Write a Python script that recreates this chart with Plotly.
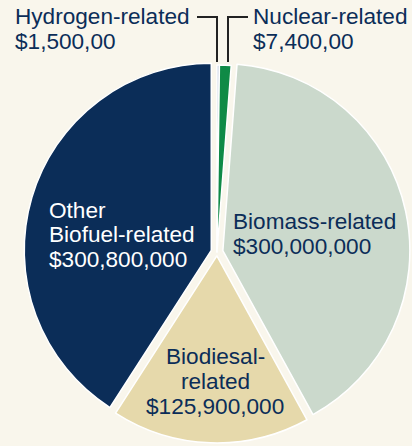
import plotly.graph_objects as go

# datos del grafico
labels = ['Hydrogen-related', 'Nuclear-related', 'Biomass-related', 'Biodiesal-related', 'Other Biofuel-related']
values = [1500000, 7400000, 300000000, 125900000, 300800000]
value_text = ['$1,500,00', '$7,400,00', '$300,000,000', '$125,900,000', '$300,800,000']
colors = ['#a9b9d3', '#0f8a46', '#cbd9cc', '#e6d9ab', '#0b2d58']
label_lines = [
    ['Hydrogen-related'],
    ['Nuclear-related'],
    ['Biomass-related'],
    ['Biodiesal-', 'related'],
    ['Other', 'Biofuel-related'],
]

W, H = 412, 446
BG = '#f9f6ec'


def px_x(x):
    return x / W


def px_y(y):
    return 1 - y / H


fig = go.Figure(go.Pie(
    labels=labels, values=values, sort=False, direction='clockwise', rotation=0,
    marker=dict(colors=colors, line=dict(color='white', width=1.5)),
    pull=[0, 0, 0.032, 0.021, 0.032],
    textinfo='none', hoverinfo='label+value', showlegend=False,
    domain=dict(x=[px_x(24), px_x(410)], y=[px_y(445), px_y(59)]),
))

# posicion de cada etiqueta (x, y de la primera linea, alineacion, color, interlineado)
label_pos = [
    (13, 16.5, 'left', '#0b2d58', 24.5),
    (251, 16.5, 'left', '#0b2d58', 24.5),
    (231, 221, 'left', '#0b2d58', 25),
    (215, 356.5, 'center', '#0b2d58', 25),
    (47, 210.5, 'left', 'white', 24.5),
]

for lines, val, (x0, y0, al, col, sp) in zip(label_lines, value_text, label_pos):
    for i, t in enumerate(lines + [val]):
        fig.add_annotation(x=px_x(x0), y=px_y(y0 + i * sp), xref='paper', yref='paper',
                           text=t, showarrow=False, xanchor=al, yanchor='middle',
                           font=dict(family='Liberation Sans, Arial', size=22.6, color=col))

# lineas guia para las tajadas pequeñas
fig.add_shape(type='path', xref='paper', yref='paper',
              path=f'M {px_x(197)} {px_y(17)} L {px_x(217)} {px_y(17)} L {px_x(217)} {px_y(62)}',
              line=dict(color='#222222', width=2))
fig.add_shape(type='path', xref='paper', yref='paper',
              path=f'M {px_x(248)} {px_y(17)} L {px_x(228)} {px_y(17)} L {px_x(228)} {px_y(62)}',
              line=dict(color='#222222', width=2))

fig.update_layout(width=W, height=H, margin=dict(l=0, r=0, t=0, b=0),
                  paper_bgcolor=BG, plot_bgcolor=BG)
# quitar el margen del body para que el grafico ocupe toda la ventana
fig.write_html('out.html', config={'displayModeBar': False},
               post_script="document.body.style.margin='0';document.body.style.background='%s';" % BG)
